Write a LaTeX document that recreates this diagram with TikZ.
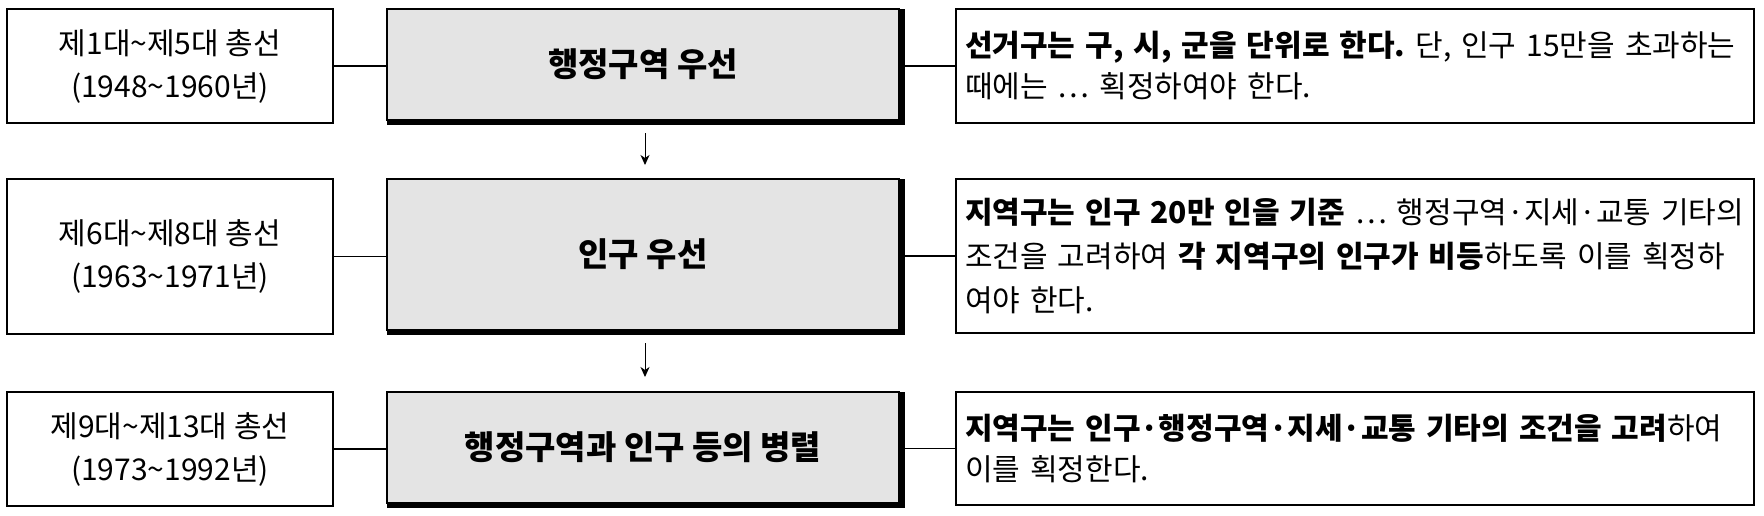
\documentclass[tikz,border=0pt]{standalone}
\usepackage{fontspec}
\setmainfont{Noto Sans CJK KR}
\usetikzlibrary{arrows.meta}
\definecolor{boxgray}{RGB}{228,228,228}
\begin{document}
\begin{tikzpicture}[x=0.5pt,y=-0.5pt,
  box/.style={draw, line width=0.8pt, inner sep=0pt, outer sep=0pt, anchor=north west},
  leftbox/.style={box, minimum width=163pt, align=center, font=\fontsize{15}{21.5}\selectfont},
  midbox/.style={box, fill=boxgray, minimum width=256pt, align=center, font=\fontsize{16.5}{20}\selectfont\bfseries},
  rightbox/.style={box, text width=390pt, inner xsep=4.5pt, align=left, font=\fontsize{15}{20.5}\selectfont},
  link/.style={line width=0.8pt},
  flow/.style={line width=0.5pt, -{Stealth[length=5pt,width=4.5pt,inset=1.5pt]}},
  shadow/.style={fill=black}]
\useasboundingbox (0,0) rectangle (1764,515);
% row 1
\node[leftbox, minimum height=57pt] (l1) at (7,9) {제1대\textasciitilde 제5대 총선\\(1948\textasciitilde 1960년)};
\node[midbox, minimum height=55.5pt] (m1) at (387,9) {행정구역 우선};
\node[rightbox, minimum height=57pt] (r1) at (956,9) {\textbf{선거구는 구, 시, 군을 단위로 한다.}\ 단, 인구 15만을 초과하는\\때에는 ⋯ 획정하여야 한다.};
% row 2
\node[leftbox, minimum height=77.5pt] (l2) at (7,179) {제6대\textasciitilde 제8대 총선\\(1963\textasciitilde 1971년)};
\node[midbox, minimum height=75.5pt] (m2) at (387,179) {인구 우선};
\node[rightbox, minimum height=77pt, font=\fontsize{15}{22}\selectfont] (r2) at (956,179) {\textbf{지역구는 인구 20만 인을 기준} ⋯ 행정구역·지세·교통 기타의\\조건을 고려하여 \textbf{각 지역구의 인구가 비등}하도록 이를 획정하\\여야 한다.};
% row 3
\node[leftbox, minimum height=57pt] (l3) at (7,392) {제9대\textasciitilde 제13대 총선\\(1973\textasciitilde 1992년)};
\node[midbox, minimum height=55.5pt] (m3) at (387,392) {행정구역과 인구 등의 병렬};
\node[rightbox, minimum height=56.5pt] (r3) at (956,392) {\textbf{지역구는 인구·행정구역·지세·교통 기타의 조건을 고려}하여\\이를 획정한다.};
% connectors
\foreach \i in {1,2,3} {
  \draw[link] (l\i.east) -- (l\i.east -| m\i.west);
  \draw[link] (r\i.west -| m\i.east) -- (r\i.west);
}
% shadows
\foreach \i in {1,2,3} {
  \fill[shadow] (m\i.north east) rectangle ([xshift=3pt,yshift=-2.5pt]m\i.south east);
  \fill[shadow] (m\i.south west) rectangle ([xshift=3pt,yshift=-2.5pt]m\i.south east);
}
% arrows
\draw[flow, shorten <=6.5pt, shorten >=7pt] ([xshift=1pt]m1.south) -- ([xshift=1pt]m2.north);
\draw[flow, shorten <=6.5pt, shorten >=7.5pt] ([xshift=1pt]m2.south) -- ([xshift=1pt]m3.north);
\end{tikzpicture}
\end{document}
